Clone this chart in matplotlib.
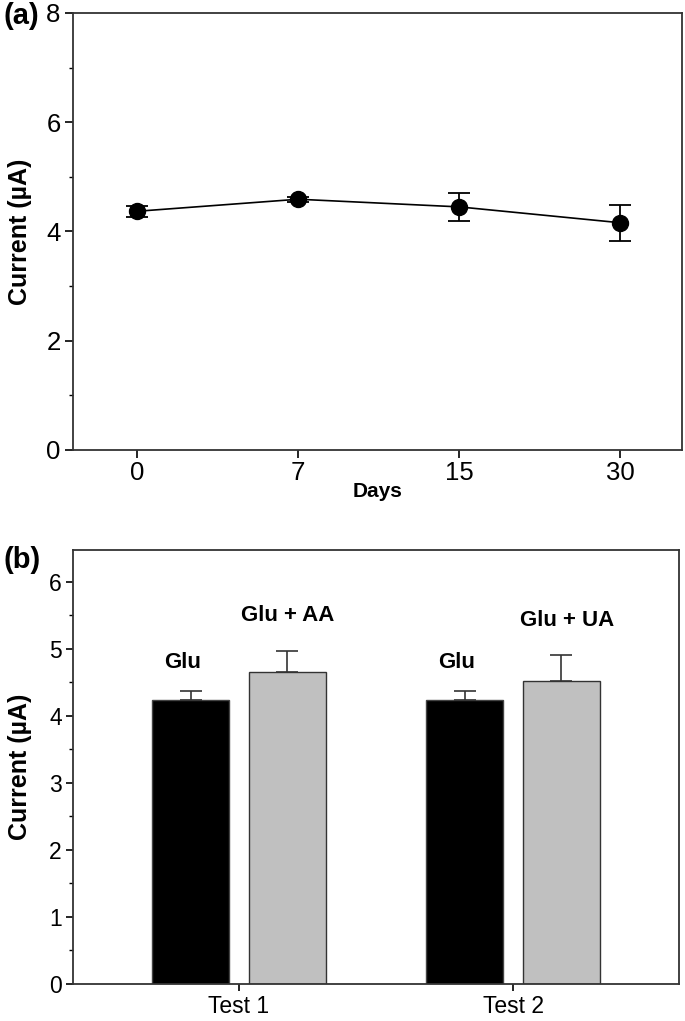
import matplotlib
matplotlib.use("Agg")
import matplotlib.pyplot as plt
from matplotlib.ticker import MultipleLocator

plt.rcParams['font.family'] = ['Liberation Sans', 'DejaVu Sans']

# panel (a): stability over days
days = ['0', '7', '15', '30']
current_a = [4.37, 4.59, 4.45, 4.16]
err_a = [0.10, 0.05, 0.25, 0.33]

# panel (b): interference test
tests = ['Test 1', 'Test 2']
glu = [4.23, 4.23]
glu_err = [0.14, 0.14]
mixed = [4.65, 4.52]
mixed_err = [0.31, 0.39]
mixed_labels = ['Glu + AA', 'Glu + UA']

fig = plt.figure(figsize=(6.85, 10.21), dpi=100)

## (a)
ax1 = fig.add_axes([0.1066, 0.5593, 0.889, 0.428])
xa = list(range(len(days)))
ax1.plot(xa, current_a, color='black', lw=1.2, zorder=2)
ax1.errorbar(xa, current_a, yerr=err_a, fmt='o', color='black', ms=11.5,
             ecolor='black', elinewidth=1.3, capsize=8, capthick=1.3, zorder=3)
ax1.set_xlim(-0.40, 3.385)
ax1.set_ylim(0, 8)
ax1.set_xticks(xa)
ax1.set_xticklabels(days)
ax1.yaxis.set_major_locator(MultipleLocator(2))
ax1.yaxis.set_minor_locator(MultipleLocator(1))
ax1.tick_params(axis='both', which='major', direction='out', length=6, width=1.2,
                labelsize=18.5, top=False, right=False, pad=3)
ax1.tick_params(axis='x', which='major', pad=2)
ax1.tick_params(axis='y', which='minor', direction='out', length=3, width=1.0)
ax1.set_xlabel('Days', fontsize=15, fontweight='bold', labelpad=-2)
ax1.set_ylabel('Current (\u00b5A)', fontsize=18, fontweight='bold')
ax1.yaxis.set_label_coords(-0.068, 0.5)
for s in ax1.spines.values():
    s.set_linewidth(1.3)
    s.set_color('#333333')
fig.text(0.005, 0.984, '(a)', fontsize=21, fontweight='bold', va='center', ha='left')

## (b)
ax2 = fig.add_axes([0.1066, 0.03624, 0.8847, 0.4251])
xb = [1, 2]
w = 0.281
off = 0.176
x_glu = [x - off for x in xb]
x_mix = [x + off for x in xb]
ax2.bar(x_glu, glu, width=w, color='black', edgecolor='#444444', lw=1.0,
        yerr=[[0, 0], glu_err], error_kw=dict(ecolor='#333333', elinewidth=1.2, capsize=8, capthick=1.2))
ax2.bar(x_mix, mixed, width=w, color='#c0c0c0', edgecolor='#333333', lw=1.0,
        yerr=[[0, 0], mixed_err], error_kw=dict(ecolor='#333333', elinewidth=1.2, capsize=8, capthick=1.2))
for i in range(len(xb)):
    ax2.text(x_glu[i] - 0.03, 4.8, 'Glu', ha='center', va='center',
             fontsize=16, fontweight='bold')
ax2.text(x_mix[0], 5.5, mixed_labels[0], ha='center', va='center', fontsize=16, fontweight='bold')
ax2.text(x_mix[1] + 0.02, 5.42, mixed_labels[1], ha='center', va='center', fontsize=16, fontweight='bold')
ax2.set_xlim(0.394, 2.606)
ax2.set_ylim(0, 6.47)
ax2.set_xticks(xb)
ax2.set_xticklabels(tests)
ax2.yaxis.set_major_locator(MultipleLocator(1))
ax2.yaxis.set_minor_locator(MultipleLocator(0.5))
ax2.tick_params(axis='both', which='major', direction='out', length=5, width=1.2,
                labelsize=16.5, top=False, right=False, pad=3)
ax2.tick_params(axis='y', which='minor', direction='out', length=3, width=1.0)
ax2.set_ylabel('Current (\u00b5A)', fontsize=18, fontweight='bold')
ax2.yaxis.set_label_coords(-0.068, 0.5)
for s in ax2.spines.values():
    s.set_linewidth(1.3)
    s.set_color('#333333')
fig.text(0.005, 0.452, '(b)', fontsize=21, fontweight='bold', va='center', ha='left')

fig.savefig('out.png', dpi=100)
